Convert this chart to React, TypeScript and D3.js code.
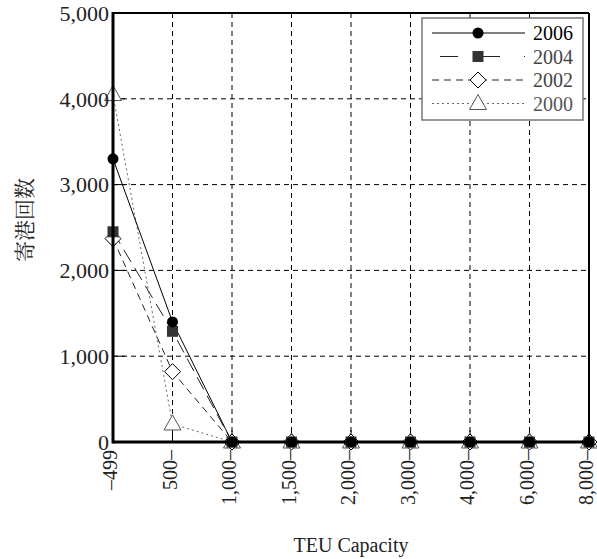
import { useMemo } from "react";
import * as d3 from "d3";

// カテゴリ(TEU 船型)
const categories = ["–499", "500–", "1,000–", "1,500–", "2,000–", "3,000–", "4,000–", "6,000–", "8,000–"];
const yTicks = [0, 1000, 2000, 3000, 4000, 5000];

const years = ["2006", "2004", "2002", "2000"];
const v2006 = [3300, 1400, 0, 0, 0, 0, 0, 0, 0];
const v2004 = [2450, 1290, 0, 0, 0, 0, 0, 0, 0];
const v2002 = [2370, 820, 0, 0, 0, 0, 0, 0, 0];
const v2000 = [4050, 210, 0, 0, 0, 0, 0, 0, 0];
const valuesByYear: Record<string, number[]> = { "2006": v2006, "2004": v2004, "2002": v2002, "2000": v2000 };

const W = 597;
const H = 559;
const L = 113;
const R = 589;
const T = 13;
const B = 442;
const SERIF = "'Liberation Serif', serif";

type Style = { dash: string; stroke: string; width: number; text: string };
const styles: Record<string, Style> = {
  "2006": { dash: "none", stroke: "#000", width: 1, text: "#000" },
  "2004": { dash: "14 7", stroke: "#222", width: 1, text: "#444" },
  "2002": { dash: "7 5", stroke: "#222", width: 1, text: "#444" },
  "2000": { dash: "2 3", stroke: "#666", width: 1, text: "#555" },
};

function Marker({ year, x, y }: { year: string; x: number; y: number }) {
  if (year === "2006") return <circle cx={x} cy={y} r={5.5} fill="#000" />;
  if (year === "2004") return <rect x={x - 5.5} y={y - 5.5} width={11} height={11} fill="#333" />;
  if (year === "2002")
    return (
      <path d={`M${x},${y - 8}L${x + 8},${y}L${x},${y + 8}L${x - 8},${y}Z`} fill="#fff" stroke="#000" strokeWidth={1} />
    );
  return (
    <path d={`M${x},${y - 9}L${x + 8.5},${y + 6}L${x - 8.5},${y + 6}Z`} fill="#fff" stroke="#555" strokeWidth={1} />
  );
}

export default function App() {
  const x = useMemo(() => d3.scalePoint<string>().domain(categories).range([L, R]), []);
  const y = useMemo(() => d3.scaleLinear().domain([0, 5000]).range([B, T]), []);
  const line = d3
    .line<number>()
    .x((_d, i) => x(categories[i]) as number)
    .y((d) => y(d));
  const fmt = d3.format(",");
  const drawOrder = ["2000", "2002", "2004", "2006"];

  return (
    <svg width={W} height={H} style={{ position: "absolute", left: 0, top: 0, background: "#fff" }}>
      {/* grid */}
      {yTicks.slice(1, -1).map((t) => (
        <line key={t} x1={L} x2={R} y1={y(t)} y2={y(t)} stroke="#000" strokeDasharray="5 4" strokeWidth={1} />
      ))}
      {categories.slice(1, -1).map((c) => (
        <line key={c} x1={x(c)} x2={x(c)} y1={T} y2={B} stroke="#000" strokeDasharray="5 4" strokeWidth={1} />
      ))}
      {/* inner ticks */}
      {yTicks.map((t) => (
        <line key={"yt" + t} x1={L} x2={L + 12} y1={y(t)} y2={y(t)} stroke="#000" strokeWidth={1} />
      ))}
      {categories.map((c) => (
        <line key={"xt" + c} x1={x(c)} x2={x(c)} y1={B} y2={B - 12} stroke="#000" strokeWidth={1} />
      ))}

      {/* lines */}
      {drawOrder.map((yr) => (
        <path
          key={yr}
          d={line(valuesByYear[yr]) || ""}
          fill="none"
          stroke={styles[yr].stroke}
          strokeWidth={styles[yr].width}
          strokeDasharray={styles[yr].dash}
        />
      ))}
      {/* markers */}
      {drawOrder.map((yr) =>
        valuesByYear[yr].map((v, i) => (
          <Marker key={yr + i} year={yr} x={x(categories[i]) as number} y={y(v)} />
        ))
      )}

      {/* frame */}
      <line x1={L} x2={R} y1={T} y2={T} stroke="#000" strokeWidth={2} />
      <line x1={R} x2={R} y1={T} y2={B} stroke="#000" strokeWidth={2} />
      <line x1={L} x2={R} y1={B} y2={B} stroke="#000" strokeWidth={3} />
      <line x1={L} x2={L} y1={T - 1} y2={B + 1.5} stroke="#000" strokeWidth={3} />

      {/* y tick labels */}
      {yTicks.map((t) => (
        <text
          key={"yl" + t}
          x={L - 4}
          y={y(t)}
          dy="0.35em"
          textAnchor="end"
          fontFamily={SERIF}
          fontSize={22}
          fill="#222"
        >
          {fmt(t)}
        </text>
      ))}
      {/* x tick labels */}
      {categories.map((c) => (
        <text
          key={"xl" + c}
          transform={`translate(${x(c)},${B + 8}) rotate(-90)`}
          dy="0.2em"
          textAnchor="end"
          fontFamily={SERIF}
          fontSize={20}
          fill="#222"
        >
          {c}
        </text>
      ))}

      {/* axis titles */}
      <text x={(L + R) / 2} y={552} textAnchor="middle" fontFamily={SERIF} fontSize={20} fill="#222">
        TEU Capacity
      </text>
      <text
        transform={`translate(25,220) rotate(-90)`}
        textAnchor="middle"
        dy="0.35em"
        fontFamily="'Noto Serif CJK JP', 'Noto Sans CJK JP', serif"
        fontSize={21}
        fill="#222"
      >
        寄港回数
      </text>

      {/* legend */}
      <g>
        <rect x={422} y={18} width={161} height={102} fill="#fff" stroke="#777" strokeWidth={1.5} />
        {years.map((yr, i) => {
          const ly = 33 + i * 23.5;
          return (
            <g key={"lg" + yr}>
              <line
                x1={432}
                x2={525}
                y1={ly}
                y2={ly}
                stroke={styles[yr].stroke}
                strokeWidth={1}
                strokeDasharray={yr === "2004" ? "18 24" : styles[yr].dash}
                strokeDashoffset={yr === "2004" ? -8 : 0}
              />
              <Marker year={yr} x={478} y={ly} />
              <text x={533} y={ly} dy="0.35em" fontFamily={SERIF} fontSize={20} fill={styles[yr].text}>
                {yr}
              </text>
            </g>
          );
        })}
      </g>
    </svg>
  );
}
